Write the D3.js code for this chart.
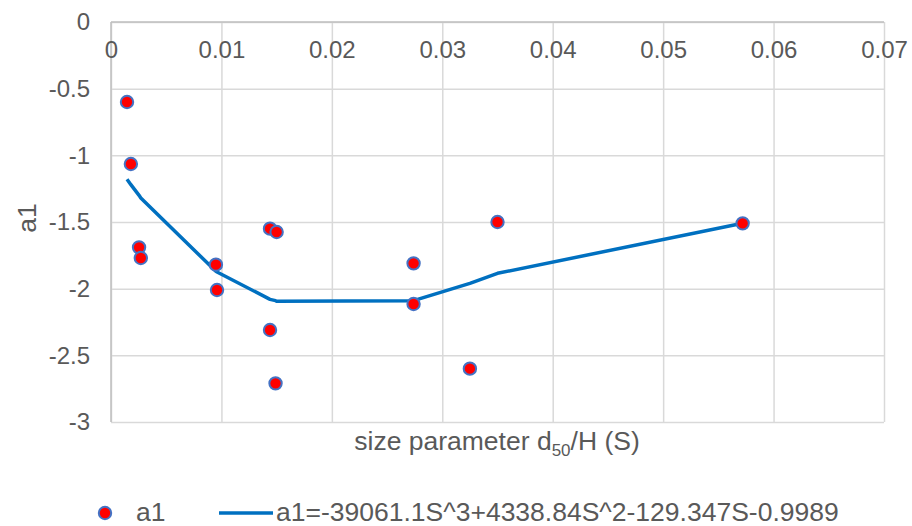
<!DOCTYPE html>
<html>
<head>
<meta charset="utf-8">
<script src="https://cdn.jsdelivr.net/npm/d3@7"></script>
<style>
  body { margin: 0; background: #fff; }
  svg { font-family: Arial, "Liberation Sans", sans-serif; }
</style>
</head>
<body>
<svg id="chart"></svg>
<script>
// observed points (S, a1)
const sValues = [0.00145, 0.0018, 0.00254, 0.0027, 0.0095, 0.0096, 0.0144, 0.0150, 0.0144, 0.0149, 0.0274, 0.0274, 0.0325, 0.0350, 0.0572]
const a1Values = [-0.60, -1.065, -1.69, -1.77, -1.82, -2.01, -1.55, -1.575, -2.31, -2.71, -1.81, -2.115, -2.60, -1.50, -1.51]

// trendline vertices
const fitS = [0.00145, 0.0018, 0.00254, 0.0027, 0.0095, 0.0096, 0.0144, 0.0149, 0.0150, 0.0274, 0.0325, 0.0350, 0.0572]
const fitA1 = [-1.18, -1.22, -1.30, -1.32, -1.87, -1.875, -2.08, -2.09, -2.095, -2.09, -1.96, -1.885, -1.51]

const xTicks = [0, 0.01, 0.02, 0.03, 0.04, 0.05, 0.06, 0.07]
const yTicks = [0, -0.5, -1, -1.5, -2, -2.5, -3]
const legendLabels = ['a1', 'a1=-39061.1S^3+4338.84S^2-129.347S-0.9989']

const width = 912
const height = 526
const padLeft = 111
const padRight = 884
const padTop = 22
const padBottom = 422

const svg = d3.select('#chart').attr('width', width).attr('height', height)

const xScale = d3.scaleLinear().domain([0, 0.07]).range([padLeft, padRight])
const yScale = d3.scaleLinear().domain([-3, 0]).range([padBottom, padTop])

const textColor = '#595959'
const tickSize = 24
const labelSize = 26.5

// grid
const xGrid = d3.axisBottom(xScale).tickValues(xTicks).tickSize(-(padBottom - padTop)).tickFormat('')
svg.append('g')
  .attr('transform', 'translate(0,' + padBottom + ')')
  .call(xGrid)
  .call(g => g.select('.domain').remove())
  .call(g => g.selectAll('line').attr('stroke', '#d9d9d9').attr('stroke-width', 1.5))

const yGrid = d3.axisLeft(yScale).tickValues(yTicks).tickSize(-(padRight - padLeft)).tickFormat('')
svg.append('g')
  .attr('transform', 'translate(' + padLeft + ',0)')
  .call(yGrid)
  .call(g => g.select('.domain').remove())
  .call(g => g.selectAll('line').attr('stroke', '#d9d9d9').attr('stroke-width', 1.5))

// axis lines (x axis crosses at y = 0, at the top)
svg.append('line')
  .attr('x1', padLeft).attr('x2', padRight)
  .attr('y1', yScale(0)).attr('y2', yScale(0))
  .attr('stroke', '#bfbfbf').attr('stroke-width', 1.5)
svg.append('line')
  .attr('x1', xScale(0)).attr('x2', xScale(0))
  .attr('y1', padTop).attr('y2', padBottom)
  .attr('stroke', '#bfbfbf').attr('stroke-width', 1.5)

// x tick labels
const xAxis = d3.axisBottom(xScale).tickValues(xTicks).tickSize(0).tickPadding(0)
  .tickFormat(v => v === 0 ? '0' : d3.format('.2f')(v))
svg.append('g')
  .attr('transform', 'translate(0,' + yScale(0) + ')')
  .call(xAxis)
  .call(g => g.select('.domain').remove())
  .call(g => g.selectAll('text')
    .attr('y', 36)
    .attr('dy', 0)
    .attr('fill', textColor)
    .style('font-size', tickSize + 'px'))

// y tick labels
const yAxis = d3.axisLeft(yScale).tickValues(yTicks).tickSize(0).tickPadding(21)
  .tickFormat(v => String(v))
svg.append('g')
  .attr('transform', 'translate(' + padLeft + ',0)')
  .call(yAxis)
  .call(g => g.select('.domain').remove())
  .call(g => g.selectAll('text')
    .attr('fill', textColor)
    .style('font-size', tickSize + 'px'))

// trendline
const line = d3.line()
  .x((d, i) => xScale(fitS[i]))
  .y(d => yScale(d))
svg.append('path')
  .attr('d', line(fitA1))
  .attr('fill', 'none')
  .attr('stroke', '#0070c0')
  .attr('stroke-width', 3.5)
  .attr('stroke-linejoin', 'round')

// points
svg.append('g')
  .selectAll('circle')
  .data(a1Values)
  .join('circle')
  .attr('cx', (d, i) => xScale(sValues[i]))
  .attr('cy', d => yScale(d))
  .attr('r', 6.2)
  .attr('fill', '#ff0000')
  .attr('stroke', '#4472c4')
  .attr('stroke-width', 2)

// axis titles
const xTitle = svg.append('text')
  .attr('x', 497)
  .attr('y', 450)
  .attr('text-anchor', 'middle')
  .attr('fill', textColor)
  .style('font-size', labelSize + 'px')
xTitle.append('tspan').text('size parameter d')
xTitle.append('tspan').attr('dy', 6).style('font-size', '17px').text('50')
xTitle.append('tspan').attr('dy', -6).text('/H (S)')

svg.append('text')
  .attr('transform', 'translate(36,218) rotate(-90)')
  .attr('text-anchor', 'middle')
  .attr('fill', textColor)
  .style('font-size', labelSize + 'px')
  .text('a1')

// legend
const legend = svg.append('g').attr('transform', 'translate(0,513)')
legend.append('circle')
  .attr('cx', 105).attr('cy', 0).attr('r', 6.2)
  .attr('fill', '#ff0000').attr('stroke', '#4472c4').attr('stroke-width', 2)
legend.append('text')
  .attr('x', 136).attr('y', 8)
  .attr('fill', textColor)
  .style('font-size', labelSize + 'px')
  .text(legendLabels[0])
legend.append('line')
  .attr('x1', 219).attr('x2', 273).attr('y1', 0).attr('y2', 0)
  .attr('stroke', '#0070c0').attr('stroke-width', 3.5)
legend.append('text')
  .attr('x', 276).attr('y', 8)
  .attr('fill', textColor)
  .style('font-size', labelSize + 'px')
  .text(legendLabels[1])
</script>
</body>
</html>
